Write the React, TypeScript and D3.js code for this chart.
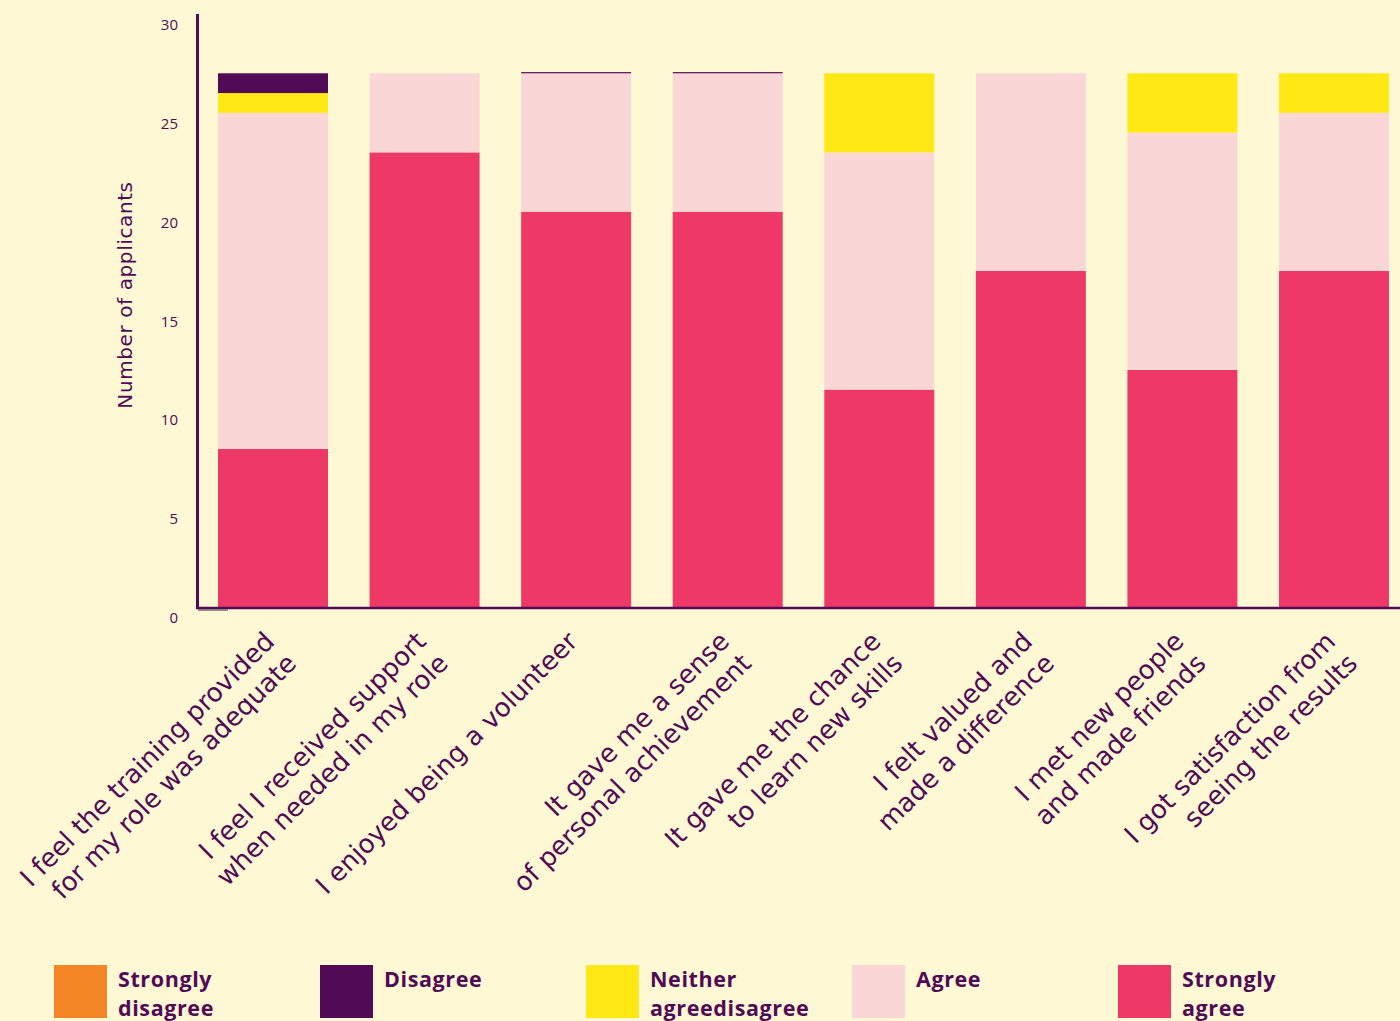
import React from "react";
import * as d3 from "d3";

const categories: string[][] = [
  ["I feel the training provided", "for my role was adequate"],
  ["I feel I received support", "when needed in my role"],
  ["I enjoyed being a volunteer"],
  ["It gave me a sense", "of personal achievement"],
  ["It gave me the chance", "to learn new skills"],
  ["I felt valued and", "made a difference"],
  ["I met new people", "and made friends"],
  ["I got satisfaction from", "seeing the results"],
];

const stronglyAgree = [8, 23, 20, 20, 11, 17, 12, 17];
const agree = [17, 4, 7, 7, 12, 10, 12, 8];
const neither = [1, 0, 0, 0, 4, 0, 3, 2];
const disagree = [1, 0, 0.06, 0.06, 0, 0, 0, 0];
const stronglyDisagree = [0, 0, 0, 0, 0, 0, 0, 0];

const seriesKeys = ["Strongly agree", "Agree", "Neither agreedisagree", "Disagree", "Strongly disagree"];
const seriesValues = [stronglyAgree, agree, neither, disagree, stronglyDisagree];
const seriesColors = ["#EE3868", "#FAD6D6", "#FFE814", "#510B56", "#F48524"];

const legendLabels = [
  ["Strongly", "disagree"],
  ["Disagree"],
  ["Neither", "agreedisagree"],
  ["Agree"],
  ["Strongly", "agree"],
];
const legendColors = ["#F48524", "#510B56", "#FFE814", "#FAD6D6", "#EE3868"];

const yTicks = [0, 5, 10, 15, 20, 25, 30];

const W = 1400;
const H = 1021;
const BG = "#FEF8D5";
const INK = "#510B56";
const FONT = "'Open Sans', sans-serif";
const LABEL_FONT = "'DejaVu Sans', sans-serif";

export default function App() {
  const ids = categories.map((_, i) => String(i));
  const rows = ids.map((id, i) => {
    const r: Record<string, number | string> = { id };
    seriesKeys.forEach((k, j) => (r[k] = seriesValues[j][i]));
    return r;
  });
  const stack = d3.stack<Record<string, number | string>>().keys(seriesKeys);
  const stacked = stack(rows as any);

  const x = d3
    .scaleBand<string>()
    .domain(ids)
    .range([197, 1410])
    .paddingInner(0.2743)
    .paddingOuter(0.1386);
  const y = d3.scaleLinear().domain([0, 30]).range([607, 14]);

  return (
    <svg
      width={W}
      height={H}
      style={{ position: "absolute", left: 0, top: 0, display: "block" }}
    >
      <rect x={0} y={0} width={W} height={H} fill={BG} />

      {stacked.map((s, si) => (
        <g key={s.key} fill={seriesColors[si]}>
          {s.map((d, i) => {
            const h = y(d[0]) - y(d[1]);
            if (h <= 0) return null;
            return (
              <rect
                key={i}
                x={x(ids[i])}
                y={y(d[1])}
                width={x.bandwidth()}
                height={h}
              />
            );
          })}
        </g>
      ))}

      {/* axes */}
      <line x1={197.5} x2={197.5} y1={14} y2={609} stroke={INK} strokeWidth={3} />
      <line x1={196} x2={1400} y1={608} y2={608} stroke={INK} strokeWidth={2.5} />
      <line x1={198} x2={228} y1={610} y2={610} stroke="#6b6b6b" strokeWidth={1.5} />

      {yTicks.map((t) => (
        <text
          key={t}
          x={178}
          y={y(t) + 16}
          textAnchor="end"
          fontFamily={FONT}
          fontSize={15}
          fill={INK}
        >
          {t}
        </text>
      ))}

      <text
        transform={`translate(132,${295}) rotate(-90)`}
        textAnchor="middle"
        fontFamily={LABEL_FONT}
        fontSize={20}
        letterSpacing={0.6}
        fill={INK}
      >
        Number of applicants
      </text>

      {categories.map((lines, i) => {
        const cx = (x(ids[i]) as number) + x.bandwidth() / 2;
        return (
          <g key={i} transform={`translate(${cx + 3},643) rotate(-45)`}>
            {lines.map((ln, li) => (
              <text
                key={li}
                x={0}
                y={li * 31}
                textAnchor="end"
                fontFamily={LABEL_FONT}
                fontSize={26}
                fill={INK}
              >
                {ln}
              </text>
            ))}
          </g>
        );
      })}

      {legendLabels.map((lines, i) => {
        const lx = 54 + i * 266;
        return (
          <g key={i}>
            <rect x={lx} y={965} width={53} height={53} fill={legendColors[i]} />
            {lines.map((ln, li) => (
              <text
                key={li}
                x={lx + 64}
                y={987 + li * 29}
                fontFamily={FONT}
                fontWeight={700}
                fontSize={21.5}
                letterSpacing={0.6}
                fill={INK}
              >
                {ln}
              </text>
            ))}
          </g>
        );
      })}
    </svg>
  );
}
